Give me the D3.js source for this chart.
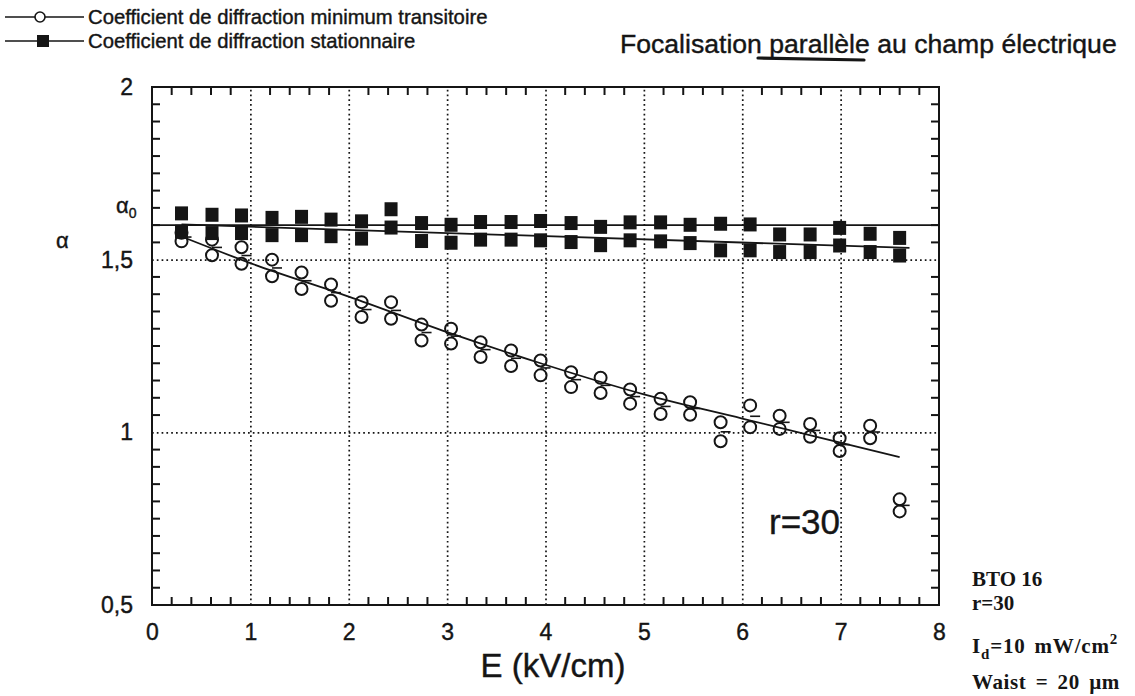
<!DOCTYPE html>
<html>
<head>
<meta charset="utf-8">
<script src="https://cdn.jsdelivr.net/npm/d3@7"></script>
<style>
  body { margin: 0; background: #fff; }
  svg { display: block; }
</style>
</head>
<body>
<svg id="chart" width="1135" height="696"></svg>
<script>
// Applied field E (kV/cm), one entry per measurement step
const fieldE = [0.30, 0.61, 0.91, 1.22, 1.52, 1.82, 2.13, 2.43, 2.74, 3.04, 3.34, 3.65, 3.95,
                4.26, 4.56, 4.86, 5.17, 5.47, 5.78, 6.08, 6.38, 6.69, 6.99, 7.30, 7.60];

// Minimum transient diffraction coefficient (two runs per field value)
const transientRunA = [1.578, 1.558, 1.536, 1.500, 1.463, 1.428, 1.377, 1.377, 1.312, 1.300, 1.261, 1.237, 1.208,
                       1.174, 1.158, 1.124, 1.097, 1.087, 1.029, 1.078, 1.048, 1.024, 0.983, 1.019, 0.806];
const transientRunB = [1.553, 1.513, 1.488, 1.452, 1.415, 1.381, 1.334, 1.329, 1.266, 1.257, 1.218, 1.192, 1.165,
                       1.131, 1.114, 1.083, 1.053, 1.051, 0.974, 1.015, 1.010, 0.987, 0.946, 0.983, 0.771];

// Steady-state diffraction coefficient (two runs per field value)
const steadyRunA = [1.634, 1.630, 1.628, 1.621, 1.624, 1.616, 1.611, 1.646, 1.606, 1.601, 1.609, 1.609, 1.612,
                    1.606, 1.595, 1.608, 1.608, 1.601, 1.604, 1.602, 1.573, 1.573, 1.592, 1.575, 1.563];
const steadyRunB = [1.581, 1.577, 1.577, 1.571, 1.571, 1.568, 1.561, 1.593, 1.554, 1.549, 1.558, 1.558, 1.556,
                    1.551, 1.542, 1.556, 1.553, 1.548, 1.527, 1.527, 1.522, 1.522, 1.541, 1.522, 1.512];

// Reference level alpha_0
const alpha0 = 1.60;

// Fitted trends
const steadyFitE = [0.30, 7.70];
const steadyFitA = [1.602, 1.534];
const transientFitE = [0.30, 1.00, 2.00, 3.00, 3.95, 5.00, 6.00, 7.60];
const transientFitA = [1.567, 1.490, 1.393, 1.290, 1.200, 1.110, 1.040, 0.928];

// Axes
const xTicks = [0, 1, 2, 3, 4, 5, 6, 7, 8];
const xMinorTicks = [0.2, 0.4, 0.6, 0.8, 1.2, 1.4, 1.6, 1.8, 2.2, 2.4, 2.6, 2.8, 3.2, 3.4, 3.6, 3.8,
                     4.2, 4.4, 4.6, 4.8, 5.2, 5.4, 5.6, 5.8, 6.2, 6.4, 6.6, 6.8, 7.2, 7.4, 7.6, 7.8];
const yTicks = [0.5, 1, 1.5, 2];
const yMinorTicks = [0.55, 0.6, 0.65, 0.7, 0.75, 0.8, 0.85, 0.9, 0.95, 1.05, 1.1, 1.15, 1.2, 1.25, 1.3, 1.35,
                     1.4, 1.45, 1.55, 1.6, 1.65, 1.7, 1.75, 1.8, 1.85, 1.9, 1.95];
const yTickLabels = ["0,5", "1", "1,5", "2"];

const legendLabels = ["Coefficient de diffraction minimum transitoire",
                      "Coefficient de diffraction stationnaire"];

const ink = "#151515";
const sans = "'Liberation Sans', Arial, Helvetica, sans-serif";
const serif = "'Liberation Serif', 'Times New Roman', serif";

const svg = d3.select("#chart");
svg.append("rect").attr("width", 1135).attr("height", 696).attr("fill", "#fff");

const x = d3.scaleLinear().domain([0, 8]).range([152, 939]);
const y = d3.scaleLinear().domain([0.5, 2]).range([605, 87]);
const x0 = 152, x1 = 939, yb = 605, yt = 87;
const W = x1 - x0, H = yb - yt;

// Dotted grid on the major ticks
const grid = svg.append("g").attr("class", "grid");
grid.append("g").attr("transform", `translate(0,${yb})`)
  .call(d3.axisBottom(x).tickValues(xTicks.slice(1, -1)).tickSize(-H).tickFormat(""));
grid.append("g").attr("transform", `translate(${x0},0)`)
  .call(d3.axisLeft(y).tickValues(yTicks.slice(1, -1)).tickSize(-W).tickFormat(""));
grid.selectAll(".domain").remove();
grid.selectAll("line").attr("stroke", ink).attr("stroke-width", 1.7).attr("stroke-dasharray", "1.7 3.1");

// Minor ticks, pointing inwards on all four sides
const tickLen = 8;
const minor = svg.append("g").attr("class", "minor");
minor.selectAll("line.xb").data(xMinorTicks).join("line").attr("class", "xb")
  .attr("x1", d => x(d)).attr("x2", d => x(d)).attr("y1", yb).attr("y2", yb - tickLen);
minor.selectAll("line.xt").data(xMinorTicks).join("line").attr("class", "xt")
  .attr("x1", d => x(d)).attr("x2", d => x(d)).attr("y1", yt).attr("y2", yt + tickLen);
minor.selectAll("line.yl").data(yMinorTicks).join("line").attr("class", "yl")
  .attr("y1", d => y(d)).attr("y2", d => y(d)).attr("x1", x0).attr("x2", x0 + tickLen);
minor.selectAll("line.yr").data(yMinorTicks).join("line").attr("class", "yr")
  .attr("y1", d => y(d)).attr("y2", d => y(d)).attr("x1", x1).attr("x2", x1 - tickLen);
minor.selectAll("line").attr("stroke", ink).attr("stroke-width", 2);

// Tick labels
const labelG = svg.append("g").attr("class", "labels");
labelG.append("g").attr("transform", `translate(0,${yb + 16})`)
  .call(d3.axisBottom(x).tickValues(xTicks).tickSize(0).tickFormat(d3.format("d")));
labelG.append("g").attr("transform", `translate(${x0 - 16},0)`)
  .call(d3.axisLeft(y).tickValues(yTicks).tickSize(0)
    .tickFormat((d, i) => yTickLabels[i]));
labelG.selectAll(".domain").remove();
labelG.selectAll("text").attr("font-family", sans).attr("font-size", 23)
  .attr("fill", ink).attr("stroke", ink).attr("stroke-width", 0.4);

// Frame
svg.append("rect").attr("x", x0).attr("y", yt).attr("width", W).attr("height", H)
  .attr("fill", "none").attr("stroke", ink).attr("stroke-width", 2);

// Reference level alpha_0 across the plot
svg.append("line")
  .attr("x1", x0).attr("x2", x1).attr("y1", y(alpha0)).attr("y2", y(alpha0))
  .attr("stroke", ink).attr("stroke-width", 1.8);

// Transient points (drawn under the squares)
const pairs = fieldE.map((e, i) => ({ e, ta: transientRunA[i], tb: transientRunB[i], sa: steadyRunA[i], sb: steadyRunB[i] }));
const r = 6;
const circG = svg.append("g").attr("fill", "none").attr("stroke", ink).attr("stroke-width", 2);
circG.append("g").selectAll("circle").data(pairs).join("circle")
  .attr("cx", d => x(d.e)).attr("cy", d => y(d.ta)).attr("r", r);
circG.append("g").selectAll("circle").data(pairs).join("circle")
  .attr("cx", d => x(d.e)).attr("cy", d => y(d.tb)).attr("r", r);
circG.append("g").selectAll("line").data(pairs).join("line")
  .attr("x1", d => x(d.e)).attr("x2", d => x(d.e) + 10)
  .attr("y1", d => y((d.ta + d.tb) / 2)).attr("y2", d => y((d.ta + d.tb) / 2))
  .attr("stroke-width", 1.6);

// Transient trend
const trendLine = d3.line().x(d => x(d[0])).y(d => y(d[1])).curve(d3.curveMonotoneX);
svg.append("path")
  .datum(transientFitE.map((e, i) => [e, transientFitA[i]]))
  .attr("d", trendLine).attr("fill", "none").attr("stroke", ink).attr("stroke-width", 1.8);

// Steady-state squares
const sqW = 13, sqH = 14;
const sqG = svg.append("g").attr("fill", ink);
[d => d.sa, d => d.sb].forEach(val => {
  sqG.append("g").selectAll("rect").data(pairs).join("rect")
    .attr("x", d => x(d.e) - sqW / 2).attr("y", d => y(val(d)) - sqH / 2)
    .attr("width", sqW).attr("height", sqH);
});

// Steady-state trend
svg.append("path")
  .datum(steadyFitE.map((e, i) => [e, steadyFitA[i]]))
  .attr("d", d3.line().x(d => x(d[0])).y(d => y(d[1])))
  .attr("fill", "none").attr("stroke", ink).attr("stroke-width", 1.8);

// Shared style for sans-serif annotations
const sansText = sel => sel.attr("font-family", sans).attr("fill", ink)
  .attr("stroke", ink).attr("stroke-width", 0.4);

// Axis titles and symbols
svg.append("text").attr("x", 553).attr("y", 677).attr("text-anchor", "middle")
  .attr("font-size", 33).call(sansText).text("E (kV/cm)");
svg.append("text").attr("x", 56).attr("y", 248)
  .attr("font-size", 22).call(sansText).text("α");
const a0 = svg.append("text").attr("x", 116).attr("y", 213)
  .attr("font-size", 22).call(sansText);
a0.append("tspan").text("α");
a0.append("tspan").attr("font-size", 14).attr("dy", 5).text("0");

svg.append("text").attr("x", 769).attr("y", 534)
  .attr("font-size", 35).call(sansText).text("r=30");

// Legend
const legend = svg.append("g");
[0, 1].forEach(i => {
  const ly = 17 + i * 24;
  legend.append("line").attr("x1", 5).attr("x2", 84).attr("y1", ly).attr("y2", ly)
    .attr("stroke", ink).attr("stroke-width", 1.6);
  legend.append("text").attr("x", 88).attr("y", ly + 7)
    .attr("font-size", 20.3).call(sansText).text(legendLabels[i]);
});
legend.append("circle").attr("cx", 40).attr("cy", 17).attr("r", 5)
  .attr("fill", "#fff").attr("stroke", ink).attr("stroke-width", 1.6);
legend.append("rect").attr("x", 37).attr("y", 35).attr("width", 12).attr("height", 12).attr("fill", ink);

// Title with hand-drawn underline
svg.append("text").attr("x", 620).attr("y", 53)
  .attr("font-size", 26.6).call(sansText).text("Focalisation parallèle au champ électrique");
svg.append("path").attr("d", "M758,58 L864,60")
  .attr("stroke", ink).attr("stroke-width", 3.2).attr("fill", "none").attr("stroke-linecap", "round");

// Sample notes
const notes = svg.append("g").attr("font-family", serif).attr("font-weight", "bold")
  .attr("font-size", 21).attr("fill", ink);
notes.append("text").attr("x", 972).attr("y", 586).text("BTO 16");
notes.append("text").attr("x", 972).attr("y", 610).text("r=30");
const idT = notes.append("text").attr("x", 972).attr("y", 653)
  .attr("letter-spacing", 0.8).attr("word-spacing", 3);
idT.append("tspan").text("I");
idT.append("tspan").attr("font-size", 15).attr("dy", 6).text("d");
idT.append("tspan").attr("dy", -6).text("=10 mW/cm");
idT.append("tspan").attr("font-size", 15).attr("dy", -9).text("2");
notes.append("text").attr("x", 972).attr("y", 689)
  .attr("letter-spacing", 0.6).attr("word-spacing", 3.5).text("Waist = 20 µm");
</script>
</body>
</html>
